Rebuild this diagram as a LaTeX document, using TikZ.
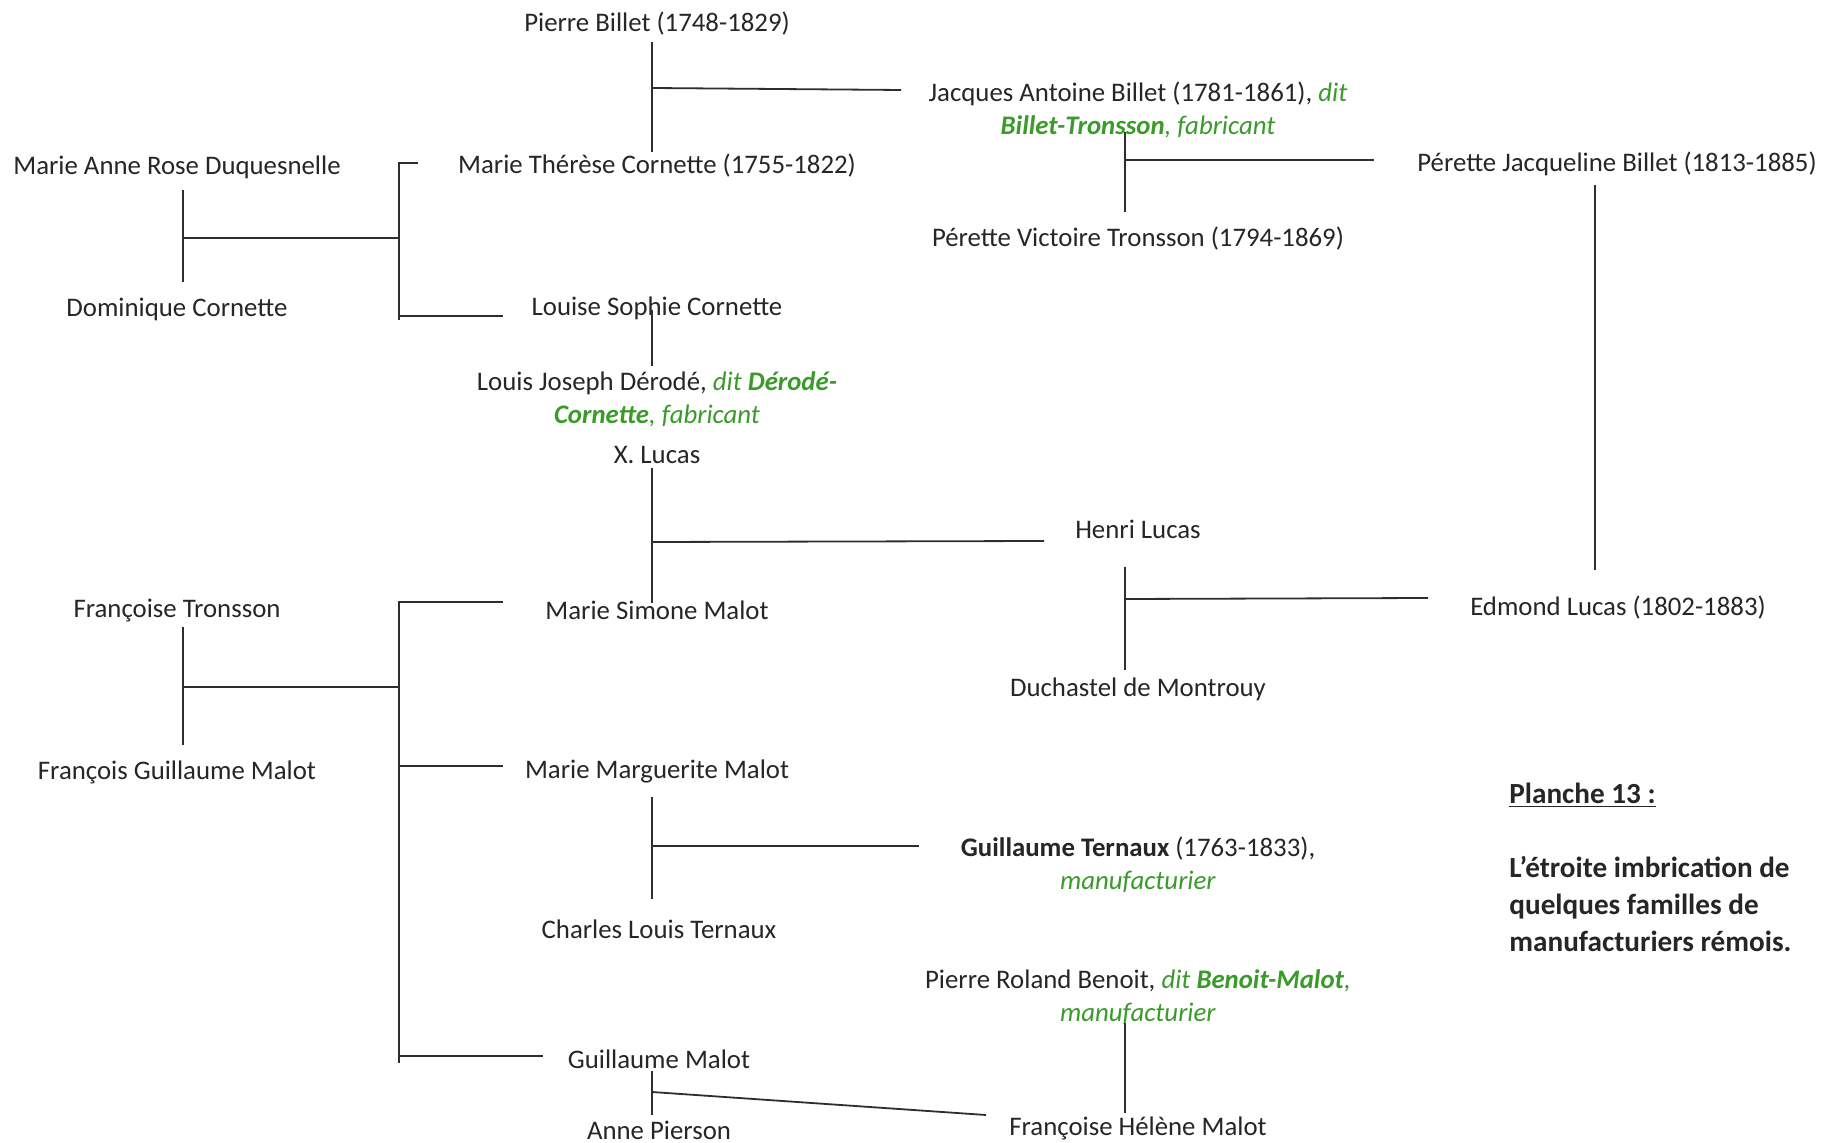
\documentclass[tikz,border=0pt]{standalone}
\usepackage{fontspec}
\setmainfont{Carlito}
\definecolor{txt}{HTML}{262626}
\definecolor{grn}{HTML}{3A9A2A}
\definecolor{lin}{HTML}{2E2E2E}
\newcommand{\gi}[1]{\textcolor{grn}{\textit{#1}}}
\newcommand{\gb}[1]{\textcolor{grn}{\textbf{\textit{#1}}}}
\begin{document}
\begin{tikzpicture}[x=0.5pt,y=-0.5pt,
  lbl/.style={inner sep=0pt,align=center,text=txt,yshift=-1.2pt,font=\fontsize{13.4}{16.5}\selectfont},
  ttl/.style={inner sep=0pt,align=left,text=txt,font=\fontsize{14.6}{18.5}\selectfont\bfseries},
  ln/.style={draw=lin,line width=0.9pt}]
\useasboundingbox[fill=white] (0,0) rectangle (1841,1143);
% persons
\node[lbl] (pb)   at (657,21)  {Pierre Billet (1748-1829)};
\node[lbl,yshift=1.2pt] (jab)  at (1138,110) {Jacques Antoine Billet (1781-1861), \gi{dit}\\\gb{Billet-Tronsson}\gi{, fabricant}};
\node[lbl] (mtc)  at (657,163) {Marie Thérèse Cornette (1755-1822)};
\node[lbl] (mard) at (177,165) {Marie Anne Rose Duquesnelle};
\node[lbl] (pjb)  at (1617,161) {Pérette Jacqueline Billet (1813-1885)};
\node[lbl] (pvt)  at (1138,236) {Pérette Victoire Tronsson (1794-1869)};
\node[lbl] (dc)   at (177,307) {Dominique Cornette};
\node[lbl] (lsc)  at (657,306) {Louise Sophie Cornette};
\node[lbl] (ljd)  at (657,397) {Louis Joseph Dérodé, \gi{dit} \gb{Dérodé-}\\\gb{Cornette}\gi{, fabricant}};
\node[lbl] (xl)   at (657,453) {X. Lucas};
\node[lbl] (hl)   at (1138,527) {Henri Lucas};
\node[lbl] (ft)   at (177,608) {Françoise Tronsson};
\node[lbl] (msm)  at (657,608) {Marie Simone Malot};
\node[lbl] (el)   at (1618,605) {Edmond Lucas (1802-1883)};
\node[lbl] (dm)   at (1138,687) {Duchastel de Montrouy};
\node[lbl] (fgm)  at (177,770) {François Guillaume Malot};
\node[lbl] (mmm)  at (657,769) {Marie Marguerite Malot};
\node[lbl] (gt)   at (1138,862) {\textbf{Guillaume Ternaux} (1763-1833),\\\gi{manufacturier}};
\node[lbl] (clt)  at (659,927) {Charles Louis Ternaux};
\node[lbl] (prb)  at (1138,995) {Pierre Roland Benoit, \gi{dit} \gb{Benoit-Malot}\gi{,}\\\gi{manufacturier}};
\node[lbl] (gm)   at (659,1057) {Guillaume Malot};
\node[lbl] (ap)   at (659,1128) {Anne Pierson};
\node[lbl] (fhm)  at (1138,1126) {Françoise Hélène Malot};
\node[ttl,anchor=west] (title) at (1509,867.5) {\underline{Planche 13 :}\\[18.5pt]L’étroite imbrication de\\quelques familles de\\manufacturiers rémois.};
% junction coordinates
\coordinate (a1) at (652,42);  \coordinate (a2) at (652,152);
\coordinate (a3) at (652,88);  \coordinate (a4) at (901,90);
\coordinate (b1) at (183,190); \coordinate (b2) at (183,282);
\coordinate (b3) at (183,238); \coordinate (b4) at (399,238);
\coordinate (c1) at (418,163); \coordinate (c2) at (399,163); \coordinate (c3) at (399,320);
\coordinate (c4) at (399,316); \coordinate (c5) at (503,316);
\coordinate (d1) at (652,310); \coordinate (d2) at (652,366);
\coordinate (e1) at (652,468); \coordinate (e2) at (652,603);
\coordinate (e3) at (652,542); \coordinate (e4) at (1044,541);
\coordinate (f1) at (1125,567); \coordinate (f2) at (1125,670);
\coordinate (f3) at (1125,599); \coordinate (f4) at (1428,598);
\coordinate (g1) at (1595,185); \coordinate (g2) at (1595,570);
\coordinate (h1) at (1125,132); \coordinate (h2) at (1125,212);
\coordinate (h3) at (1125,160); \coordinate (h4) at (1374,160);
\coordinate (i1) at (183,627); \coordinate (i2) at (183,745);
\coordinate (i3) at (183,687); \coordinate (i4) at (399,687);
\coordinate (k1) at (503,602); \coordinate (k2) at (399,602); \coordinate (k3) at (399,1063);
\coordinate (k4) at (399,766); \coordinate (k5) at (503,766);
\coordinate (k6) at (399,1056); \coordinate (k7) at (543,1056);
\coordinate (m1) at (652,797); \coordinate (m2) at (652,899);
\coordinate (m3) at (652,846); \coordinate (m4) at (919,846);
\coordinate (n1) at (652,1071); \coordinate (n2) at (652,1115);
\coordinate (n3) at (652,1092); \coordinate (n4) at (986,1115);
\coordinate (p1) at (1125,1023); \coordinate (p2) at (1125,1113);
% connectors
\draw[ln] (a1) -- (a2); \draw[ln] (a3) -- (a4);
\draw[ln] (b1) -- (b2); \draw[ln] (b3) -- (b4);
\draw[ln] (c1) -- (c2) -- (c3); \draw[ln] (c4) -- (c5);
\draw[ln] (d1) -- (d2);
\draw[ln] (e1) -- (e2); \draw[ln] (e3) -- (e4);
\draw[ln] (f1) -- (f2); \draw[ln] (f3) -- (f4);
\draw[ln] (g1) -- (g2);
\draw[ln] (h1) -- (h2); \draw[ln] (h3) -- (h4);
\draw[ln] (i1) -- (i2); \draw[ln] (i3) -- (i4);
\draw[ln] (k1) -- (k2) -- (k3); \draw[ln] (k4) -- (k5); \draw[ln] (k6) -- (k7);
\draw[ln] (m1) -- (m2); \draw[ln] (m3) -- (m4);
\draw[ln] (n1) -- (n2); \draw[ln] (n3) -- (n4);
\draw[ln] (p1) -- (p2);
\end{tikzpicture}
\end{document}
